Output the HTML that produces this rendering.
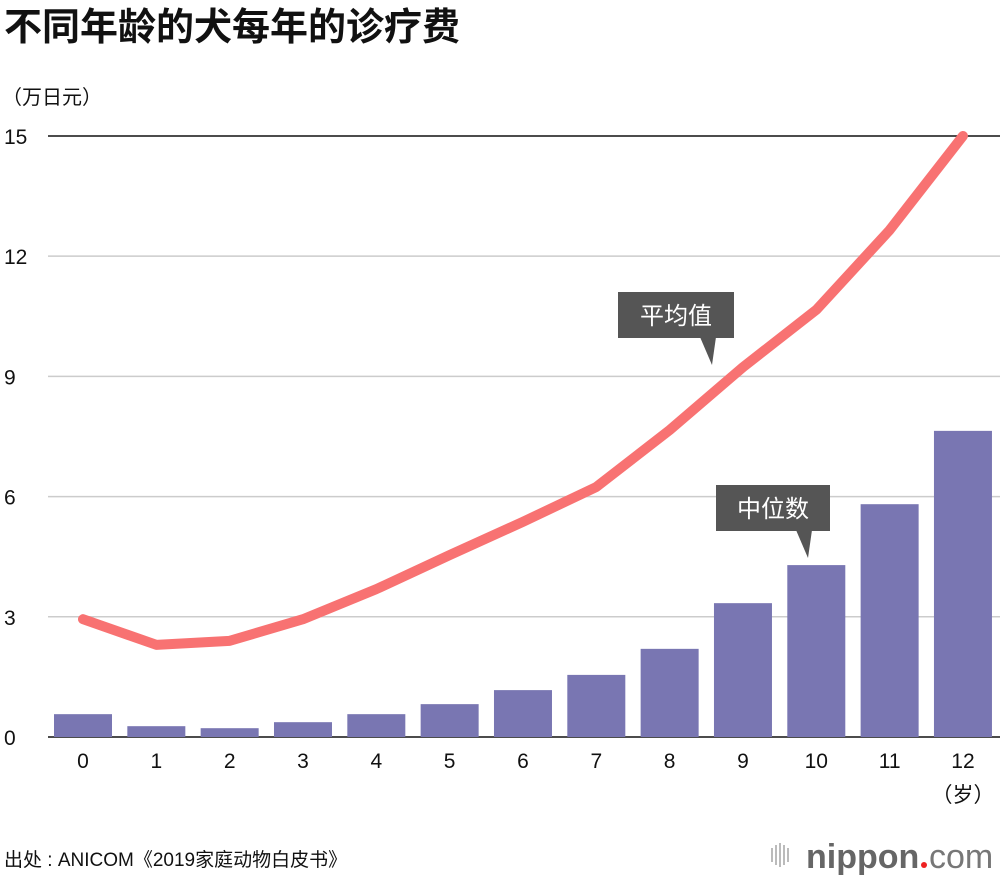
<!DOCTYPE html>
<html><head><meta charset="utf-8">
<style>
body{margin:0;background:#fff;width:1000px;height:880px;overflow:hidden;font-family:"Liberation Sans","Noto Sans CJK SC",sans-serif;}
</style></head>
<body>
<svg id="c" width="1000" height="880" xmlns="http://www.w3.org/2000/svg" font-family="Liberation Sans, Noto Sans CJK SC, sans-serif">
<text x="4" y="40" font-size="38" font-weight="bold" fill="#111">不同年龄的犬每年的诊疗费</text>
<text x="2" y="104" font-size="20" fill="#111">（万日元）</text>
<g id="grid"></g>
<g id="bars"></g>
<g id="line"></g>
<g id="xlabels"></g>
<text x="963" y="802" font-size="21" fill="#111" text-anchor="middle">（岁）</text>
<g>
<rect x="618" y="292" width="116" height="46" fill="#555"/>
<polygon points="700,337 716,337 712,365" fill="#555"/>
<text x="676" y="324" font-size="24" fill="#fff" text-anchor="middle">平均值</text>
</g>
<g>
<rect x="716" y="485" width="114" height="46" fill="#555"/>
<polygon points="796,530 812,530 808,558" fill="#555"/>
<text x="773" y="517" font-size="24" fill="#fff" text-anchor="middle">中位数</text>
</g>
<text x="4" y="866" font-size="19" fill="#111">出处 : ANICOM《2019家庭动物白皮书》</text>
<g>
<g fill="#bbb"><rect x="771" y="848" width="2" height="14"/><rect x="775" y="845" width="2" height="20"/><rect x="779" y="843" width="2" height="24"/><rect x="783" y="845" width="2" height="20"/><rect x="787" y="848" width="2" height="14"/></g>
<text x="806" y="868" font-size="34" font-weight="bold" fill="#666">nippon</text>
<circle cx="924" cy="865" r="3" fill="#e22"/>
<text x="929" y="868" font-size="34" fill="#777">com</text>
</g>
</svg>
<script>
const categories=["0","1","2","3","4","5","6","7","8","9","10","11","12"];
const medianValues=[0.57,0.27,0.22,0.37,0.57,0.82,1.17,1.55,2.2,3.34,4.29,5.81,7.64];
const meanValues=[2.94,2.30,2.40,2.94,3.69,4.54,5.37,6.24,7.66,9.23,10.66,12.65,15];
const yTicks=[0,3,6,9,12,15];
const NS="http://www.w3.org/2000/svg";
const y=v=>737-v*40.07;
const x=i=>83+i*73.33;
function mk(t,a,p){const e=document.createElementNS(NS,t);for(const k in a)e.setAttribute(k,a[k]);p.appendChild(e);return e;}
const grid=document.getElementById('grid');
yTicks.forEach(t=>{
  const l=mk('line',{x1:48,x2:1000,y1:y(t),y2:y(t),stroke:(t===0||t===15)?'#111':'#ccc','stroke-width':1.5},grid);
  
  
  const tx=mk('text',{x:4,y:y(t)+8,'font-size':21,fill:'#111'},grid);
  tx.textContent=t;
  
  
});
const bars=document.getElementById('bars');
medianValues.forEach((v,i)=>{
  const r=mk('rect',{x:x(i)-29,y:y(v),width:58,height:y(0)-y(v),fill:'#7976b2'},bars);
  
  
});
const xl=document.getElementById('xlabels');
categories.forEach((c,i)=>{
  const t=mk('text',{x:x(i),y:768,'font-size':21,fill:'#111','text-anchor':'middle'},xl);
  t.textContent=c;
  
  
});
const pl=mk('polyline',{points:meanValues.map((v,i)=>x(i)+','+y(v)).join(' '),fill:'none',stroke:'#f87272','stroke-width':10,'stroke-linecap':'round','stroke-linejoin':'round'},document.getElementById('line'));


</script>
</body></html>
